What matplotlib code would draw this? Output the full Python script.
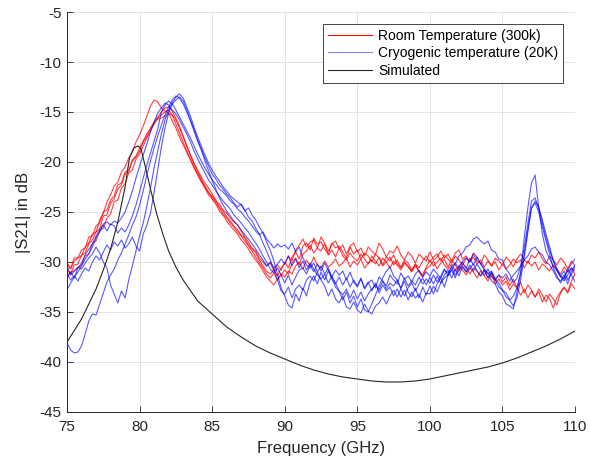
import numpy as np
import matplotlib
matplotlib.use("Agg")
import matplotlib.pyplot as plt

plt.rcParams['font.family'] = ['Liberation Sans', 'DejaVu Sans']
plt.rcParams['axes.unicode_minus'] = False

# measured sweep, 75-110 GHz every 0.25 GHz
freq = np.arange(75, 110.001, 0.25)

# room temperature (300 K) sweeps
room1 = [-30.3, -30.7, -29.9, -29.6, -29.4, -28.5, -28.1, -27.2, -27.0, -25.8, -25.1, -24.0, -23.3, -22.4, -22.0, -21.0, -20.5, -19.6, -19.0, -18.0,
         -17.3, -16.4, -15.4, -14.4, -13.8, -14.0, -14.6, -14.9, -15.1, -15.9, -16.6, -17.5, -18.3, -19.0, -19.8, -20.6, -21.2, -21.9, -22.5, -23.1,
         -23.4, -23.9, -24.2, -24.8, -25.1, -25.6, -26.0, -26.3, -26.9, -27.5, -28.0, -28.7, -29.1, -29.8, -30.4, -30.9, -31.2, -30.8, -31.4, -30.6,
         -30.2, -29.4, -29.9, -28.8, -28.3, -27.7, -28.5, -28.0, -27.8, -28.6, -27.5, -28.1, -28.9, -28.2, -27.9, -28.7, -28.3, -29.2, -28.4, -28.1,
         -29.0, -28.6, -29.4, -28.5, -28.9, -29.3, -28.1, -28.7, -29.5, -28.9, -29.1, -28.4, -29.3, -29.8, -29.0, -29.4, -30.1, -29.2, -29.6, -29.9,
         -29.0, -29.8, -29.5, -28.9, -29.6, -29.2, -29.9, -29.1, -28.8, -29.7, -29.4, -30.0, -29.1, -29.5, -30.2, -29.3, -29.8, -30.4, -29.6, -29.9,
         -30.3, -29.5, -29.9, -30.5, -29.7, -29.2, -29.8, -30.1, -29.3, -29.6, -29.0, -29.7, -30.2, -29.4, -29.8, -30.3, -29.6, -30.0, -30.7, -29.9,
         -30.4]
room2 = [-30.8, -31.2, -30.3, -30.2, -29.3, -29.1, -28.2, -27.8, -27.0, -26.7, -25.4, -25.3, -24.1, -23.7, -22.7, -22.3, -21.2, -21.0, -19.9, -19.5,
         -18.9, -18.0, -17.4, -16.6, -16.0, -15.5, -15.0, -14.6, -14.5, -14.9, -15.6, -16.4, -17.5, -18.4, -19.3, -20.1, -20.8, -21.5, -22.1, -22.6,
         -23.2, -23.8, -24.5, -24.9, -25.5, -25.9, -26.4, -26.8, -27.3, -27.6, -28.3, -28.6, -28.9, -29.6, -30.0, -30.4, -30.1, -30.9, -30.3, -30.8,
         -30.0, -30.6, -29.5, -29.0, -29.7, -28.4, -28.1, -28.8, -27.6, -28.2, -28.0, -28.7, -29.2, -28.1, -28.6, -28.4, -29.0, -29.6, -28.5, -29.2,
         -28.8, -29.7, -29.1, -29.4, -30.0, -29.2, -29.6, -30.3, -29.5, -29.9, -29.3, -30.2, -30.5, -29.8, -30.1, -30.8, -30.2, -31.0, -31.5, -30.7,
         -30.4, -29.9, -30.7, -30.1, -29.7, -30.5, -29.8, -30.3, -30.9, -30.2, -30.5, -31.2, -30.6, -30.9, -31.4, -30.8, -31.6, -31.1, -31.9, -31.3,
         -32.0, -31.5, -32.4, -31.7, -32.6, -32.0, -33.1, -32.3, -32.8, -33.5, -32.7, -33.3, -34.0, -33.2, -33.7, -34.3, -33.1, -32.6, -33.0, -31.9,
         -31.2]
room3 = [-31.6, -31.0, -30.9, -30.6, -30.3, -29.4, -29.2, -28.1, -27.9, -26.9, -26.6, -25.6, -25.2, -24.0, -23.8, -22.6, -22.2, -21.1, -20.8, -19.7,
         -19.2, -18.4, -17.6, -16.9, -16.2, -15.6, -15.3, -15.0, -14.8, -15.3, -16.2, -17.1, -18.0, -18.9, -19.7, -20.5, -21.3, -22.0, -22.6, -23.3,
         -23.7, -24.2, -24.9, -25.3, -25.9, -26.4, -26.8, -27.2, -27.8, -28.2, -28.7, -29.3, -29.8, -30.3, -30.9, -31.5, -31.9, -32.3, -31.7, -31.2,
         -31.5, -30.9, -31.2, -30.4, -30.0, -30.7, -29.8, -30.4, -29.5, -30.3, -30.6, -29.9, -30.5, -30.2, -29.7, -30.4, -30.1, -29.6, -30.5, -29.9,
         -30.3, -29.7, -30.6, -30.1, -29.8, -30.2, -29.5, -30.4, -30.0, -30.6, -29.9, -30.3, -30.8, -30.1, -30.5, -31.0, -30.4, -30.9, -31.3, -30.5,
         -29.8, -30.4, -30.0, -29.6, -30.3, -30.7, -30.2, -30.9, -30.4, -30.8, -31.3, -30.6, -31.0, -31.6, -30.9, -31.4, -31.9, -31.2, -32.2, -31.7,
         -32.3, -31.9, -32.8, -32.2, -32.6, -33.3, -32.7, -33.6, -32.9, -33.5, -33.0, -34.0, -33.3, -33.7, -34.6, -33.6, -33.0, -32.5, -33.1, -32.2,
         -32.7]
room4 = [-30.1, -30.6, -29.6, -29.6, -28.8, -28.6, -27.5, -27.4, -26.4, -26.1, -25.0, -24.8, -23.8, -23.4, -22.3, -22.1, -21.0, -20.8, -19.8, -19.4,
         -18.6, -17.9, -17.2, -16.7, -16.1, -15.7, -15.6, -15.4, -15.2, -15.3, -15.8, -16.6, -17.4, -18.4, -19.3, -20.2, -21.0, -21.7, -22.4, -23.0,
         -23.6, -24.1, -24.6, -25.2, -25.6, -26.1, -26.5, -27.0, -27.4, -27.9, -28.4, -28.9, -29.5, -30.1, -30.6, -31.2, -31.6, -31.1, -31.8, -31.3,
         -30.8, -31.2, -30.1, -29.6, -30.3, -29.2, -28.9, -28.3, -29.1, -28.6, -28.9, -28.2, -29.3, -28.8, -29.5, -28.6, -29.4, -29.8, -29.1, -29.6,
         -29.9, -29.2, -29.7, -30.2, -29.4, -29.9, -30.4, -29.6, -30.0, -29.5, -30.3, -29.8, -30.6, -30.0, -30.4, -30.9, -30.2, -30.6, -29.9, -29.4,
         -30.0, -29.5, -29.2, -29.9, -29.3, -29.7, -30.1, -29.4, -29.8, -30.3, -29.6, -30.0, -29.5, -30.2, -29.8, -30.5, -29.9, -30.4, -30.0, -30.8,
         -30.2, -30.7, -30.3, -29.7, -30.1, -29.8, -30.6, -29.9, -30.4, -30.0, -30.8, -30.2, -30.5, -30.9, -30.3, -30.7, -31.2, -30.5, -31.0, -30.6,
         -31.3]

# cryogenic (20 K) sweeps
cryo1 = [-30.4, -31.3, -30.9, -30.5, -30.7, -30.1, -29.6, -29.2, -28.5, -29.1, -30.0, -30.6, -32.3, -33.2, -34.1, -32.9, -33.6, -31.8, -30.4, -28.9,
         -27.4, -26.1, -24.4, -22.6, -20.6, -18.9, -17.2, -15.8, -14.8, -14.1, -13.5, -13.2, -13.6, -14.5, -15.4, -16.5, -17.5, -18.4, -19.3, -20.1,
         -20.8, -21.4, -21.9, -22.5, -22.9, -23.4, -23.7, -24.0, -24.3, -24.9, -24.6, -25.3, -25.8, -26.5, -27.1, -28.0, -28.8, -29.9, -31.2, -32.6,
         -33.4, -34.3, -34.6, -33.2, -33.9, -32.6, -33.4, -32.0, -31.4, -32.2, -31.0, -31.8, -30.9, -31.7, -32.5, -32.9, -33.8, -33.0, -34.1, -33.4,
         -34.5, -33.7, -34.8, -35.0, -34.2, -33.3, -32.4, -31.6, -30.9, -30.5, -31.4, -31.8, -32.7, -31.9, -33.0, -33.5, -32.6, -33.6, -32.5, -33.3,
         -32.4, -33.2, -32.2, -31.6, -32.5, -31.3, -30.8, -31.6, -30.4, -30.0, -30.7, -29.6, -30.3, -29.5, -30.2, -30.7, -31.1, -31.9, -32.2, -33.0,
         -33.4, -34.2, -34.4, -34.7, -33.0, -31.2, -27.6, -24.6, -22.1, -21.3, -24.6, -27.2, -28.9, -29.7, -30.4, -30.9, -31.4, -31.7, -30.8, -30.2,
         -29.7]
cryo2 = [-31.4, -31.0, -31.6, -30.6, -30.1, -29.3, -28.7, -28.2, -27.4, -26.8, -26.3, -26.9, -26.2, -26.4, -27.1, -26.6, -27.0, -26.3, -25.4, -24.3,
         -23.0, -21.6, -20.3, -19.1, -17.9, -16.7, -15.0, -14.3, -13.9, -14.2, -14.8, -15.5, -16.2, -16.9, -17.6, -18.4, -19.2, -19.9, -20.6, -21.2,
         -21.8, -22.2, -22.7, -23.0, -23.4, -23.9, -24.2, -24.7, -25.0, -25.5, -25.9, -26.4, -26.9, -27.3, -27.0, -27.7, -28.1, -28.6, -28.2, -28.5,
         -28.3, -28.7, -28.1, -29.0, -28.5, -29.6, -30.3, -30.6, -30.1, -31.0, -30.4, -31.2, -30.6, -31.5, -30.8, -31.3, -30.9, -31.8, -31.0, -32.0,
         -32.5, -31.7, -32.6, -32.0, -32.9, -32.1, -33.1, -32.3, -32.9, -32.5, -33.4, -32.7, -33.5, -32.8, -33.8, -33.0, -33.6, -33.2, -34.0, -33.1,
         -33.2, -32.4, -33.0, -32.1, -31.6, -31.3, -30.4, -30.2, -29.4, -29.1, -28.5, -28.3, -27.7, -27.5, -27.9, -28.2, -27.9, -28.8, -29.0, -29.7,
         -29.8, -30.7, -31.2, -32.1, -31.6, -30.4, -28.6, -26.2, -23.9, -23.6, -24.6, -26.1, -27.6, -28.8, -29.8, -30.7, -31.4, -31.9, -31.3, -30.6,
         -30.9]
cryo3 = [-32.8, -32.1, -31.5, -31.0, -30.4, -29.7, -29.2, -28.5, -27.6, -27.0, -26.2, -26.0, -26.3, -25.9, -26.1, -25.6, -25.0, -24.0, -22.9, -21.6,
         -20.4, -19.3, -18.2, -17.0, -16.0, -15.1, -14.6, -14.1, -14.3, -14.8, -15.2, -15.8, -16.5, -17.2, -18.0, -18.9, -19.7, -20.4, -21.1, -21.8,
         -22.3, -22.9, -23.4, -23.9, -24.3, -24.7, -25.3, -25.7, -26.1, -26.6, -27.0, -27.6, -28.1, -28.7, -29.4, -30.0, -30.7, -31.1, -30.6, -31.3,
         -32.1, -31.3, -32.3, -31.5, -30.8, -30.6, -31.2, -30.3, -31.0, -30.2, -30.9, -30.1, -30.8, -31.6, -32.1, -32.9, -33.3, -32.7, -33.6, -32.8,
         -33.7, -33.0, -33.9, -33.2, -32.7, -32.3, -32.8, -31.9, -32.7, -32.1, -32.4, -31.8, -32.6, -31.6, -32.4, -31.9, -32.3, -31.5, -32.2, -31.7,
         -32.1, -31.3, -32.0, -31.4, -30.7, -31.4, -30.8, -30.1, -30.7, -29.9, -29.6, -30.0, -29.2, -29.9, -30.1, -30.8, -31.2, -30.9, -31.7, -32.1,
         -32.8, -33.1, -33.8, -33.4, -32.6, -31.0, -29.2, -26.8, -24.6, -23.9, -24.5, -25.8, -27.2, -28.5, -29.9, -30.8, -31.5, -30.9, -31.8, -31.2,
         -30.5]
cryo4 = [-31.2, -31.8, -31.4, -31.9, -31.2, -30.6, -30.9, -30.0, -29.4, -29.8, -29.0, -28.3, -28.8, -28.0, -28.4, -27.8, -28.6, -28.2, -27.5, -28.4,
         -28.9, -27.2, -26.3, -25.1, -23.0, -20.8, -18.5, -16.6, -15.1, -14.2, -13.8, -13.5, -13.9, -14.8, -15.8, -16.7, -17.8, -18.7, -19.6, -20.4,
         -21.2, -21.7, -22.3, -22.7, -23.2, -23.6, -24.1, -24.5, -24.2, -24.8, -25.5, -25.9, -26.6, -27.2, -28.1, -28.9, -29.8, -30.7, -31.8, -32.9,
         -33.2, -32.5, -33.6, -32.7, -32.3, -32.8, -31.8, -31.4, -31.9, -31.0, -31.8, -32.4, -33.4, -32.7, -33.7, -34.1, -33.4, -34.5, -34.7, -34.0,
         -34.8, -35.1, -34.2, -34.9, -35.2, -34.4, -34.1, -33.5, -34.2, -33.4, -32.8, -33.5, -32.7, -33.4, -32.6, -32.1, -32.9, -32.2, -31.6, -32.3,
         -31.5, -32.2, -31.4, -32.1, -31.3, -30.8, -31.6, -30.7, -31.4, -30.5, -31.0, -30.3, -30.9, -30.2, -30.8, -31.3, -30.7, -31.5, -31.8, -32.5,
         -32.8, -33.5, -33.8, -34.4, -33.6, -31.8, -29.6, -27.0, -24.6, -24.1, -25.0, -26.5, -27.9, -29.2, -30.6, -31.4, -32.1, -31.5, -30.7, -31.3,
         -32.0]
cryo5 = [-38.1, -38.8, -39.1, -39.0, -38.4, -37.2, -35.9, -35.2, -35.3, -34.2, -33.1, -32.0, -31.3, -30.7, -29.8, -29.1, -28.2, -27.3, -26.3, -25.5,
         -24.3, -22.9, -21.3, -19.9, -18.6, -17.4, -16.3, -15.3, -14.5, -13.8, -13.4, -13.6, -14.2, -15.0, -15.9, -16.9, -17.9, -18.8, -19.9, -20.9,
         -21.8, -22.7, -23.6, -24.3, -24.9, -25.4, -25.9, -26.3, -26.8, -27.3, -27.7, -28.2, -28.7, -29.3, -29.8, -30.4, -30.0, -30.6, -30.2, -29.7,
         -30.2, -29.4, -30.4, -29.7, -30.6, -29.9, -30.8, -30.1, -30.7, -31.3, -31.7, -31.2, -32.1, -31.4, -32.2, -31.5, -32.3, -31.6, -32.5, -31.8,
         -32.4, -31.6, -32.7, -32.1, -31.8, -32.6, -31.5, -31.9, -32.4, -31.3, -31.8, -32.2, -31.1, -31.7, -31.4, -32.0, -31.2, -30.8, -31.5, -31.0,
         -31.4, -30.7, -31.2, -31.6, -30.8, -31.1, -30.5, -31.3, -30.9, -30.4, -31.0, -30.6, -30.2, -30.9, -31.4, -30.8, -31.6, -31.0, -31.7, -31.3,
         -31.6, -31.2, -31.9, -31.3, -30.9, -30.4, -29.8, -29.4, -28.7, -28.5, -29.0, -29.3, -30.0, -30.3, -30.9, -31.6, -31.9, -31.3, -32.2, -30.9,
         -30.3]

# simulated response
sim_freq = [75, 76, 77, 77.5, 78, 78.5, 79, 79.3, 79.6, 79.9, 80.1, 80.4, 80.8, 81.2, 81.6, 82, 82.5, 83,
            84, 85, 86, 87, 88, 89, 90, 91, 92, 93, 94, 95, 96, 97, 98, 99, 100, 101, 102, 103,
            104, 105, 106, 107, 108, 109, 110]
sim_db = [-38.0, -35.7, -32.7, -30.8, -28.7, -26.0, -22.5, -19.6, -18.6, -18.4, -18.7, -20.5, -23.0, -25.3,
          -27.2, -28.9, -30.5, -31.8, -33.9, -35.2, -36.5, -37.5, -38.4, -39.1, -39.7, -40.3, -40.8, -41.2,
          -41.5, -41.7, -41.9, -42.0, -42.0, -41.9, -41.7, -41.4, -41.1, -40.8, -40.5, -40.1, -39.6, -39.0,
          -38.4, -37.7, -36.9]

fig = plt.figure(figsize=(5.9, 4.67), dpi=100)
ax = fig.add_axes([0.1136, 0.1178, 0.8610, 0.8565])

for s in [room1, room2, room3, room4]:
    ax.plot(freq, s, color='#ff0000', lw=0.8, alpha=0.75)
for s in [cryo1, cryo2, cryo3, cryo4, cryo5]:
    ax.plot(freq, s, color='#0000ff', lw=0.8, alpha=0.65)
ax.plot(sim_freq, sim_db, color='#262626', lw=0.8)

h1, = ax.plot([], [], color='#ff0000', lw=0.8)
h2, = ax.plot([], [], color='#0000ff', lw=0.8, alpha=0.5)
h3, = ax.plot([], [], color='#262626', lw=0.8)
leg = ax.legend([h1, h2, h3], ['Room Temperature (300k)', 'Cryogenic temperature (20K)', 'Simulated'],
                loc='upper right', bbox_to_anchor=(0.976, 0.97), borderaxespad=0, fancybox=False,
                framealpha=1, edgecolor='#262626', fontsize=10, handlelength=3.2, handletextpad=0.4,
                labelspacing=0.25, borderpad=0.35)
leg.get_frame().set_linewidth(0.6)

ax.set_xlim(75, 110)
ax.set_ylim(-45, -5)
ax.set_xticks(range(75, 111, 5))
ax.set_yticks(range(-45, -4, 5))
ax.grid(True, color='#e3e3e3', lw=0.7)
ax.set_axisbelow(True)
for side in ['top', 'right']:
    ax.spines[side].set_visible(False)
for side in ['left', 'bottom']:
    ax.spines[side].set_color('#262626')
    ax.spines[side].set_linewidth(0.7)
ax.tick_params(direction='in', length=4, width=0.6, colors='#262626', labelsize=11)
ax.tick_params(axis='x', pad=6)
ax.tick_params(axis='y', pad=4)
ax.set_xlabel('Frequency (GHz)', fontsize=12, color='#262626', labelpad=5)
ax.set_ylabel('|S21| in dB', fontsize=12, color='#262626', labelpad=6)

fig.savefig('out.png', dpi=100)
